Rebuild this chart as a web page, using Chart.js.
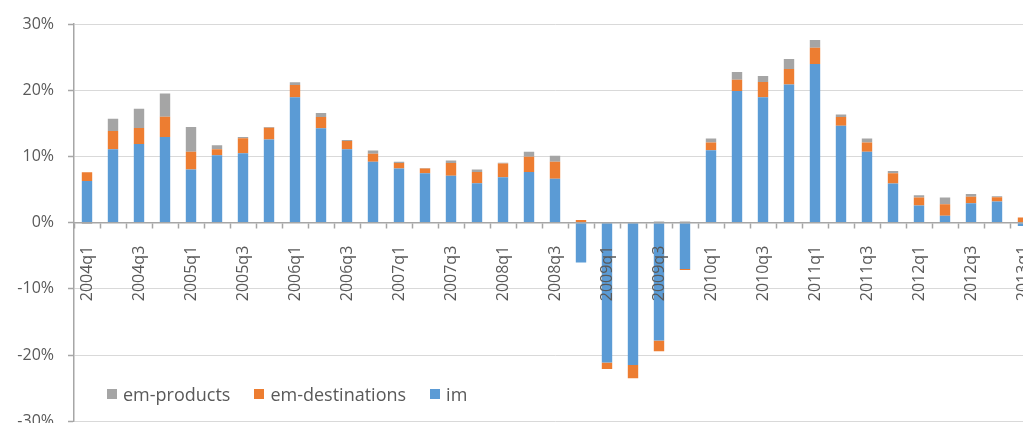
<!DOCTYPE html>
<html>
<head>
<meta charset="utf-8">
<script src="https://cdn.jsdelivr.net/npm/chart.js@4/dist/chart.umd.min.js"></script>
<style>
    html, body { margin: 0; padding: 0; background: #fff; }
    #frame { position: relative; width: 1023px; height: 423px; overflow: hidden; }
    #box { position: absolute; left: 0; top: 0; width: 1036px; height: 445px; }
    #legend {
        position: absolute; left: 107px; top: 382px;
        font-family: "Open Sans", sans-serif; font-size: 18px; color: #595959;
        display: flex; gap: 24px; white-space: nowrap;
    }
    #legend span.item { display: flex; align-items: center; }
    #legend i { display: inline-block; width: 10px; height: 10px; margin-right: 6px; }
</style>
</head>
<body>
<div id="frame">
    <div id="box"><canvas id="growthChart"></canvas></div>
    <div id="legend"></div>
</div>
<script>
const quarters = [
    "2004q1", "2004q2", "2004q3", "2004q4",
    "2005q1", "2005q2", "2005q3", "2005q4",
    "2006q1", "2006q2", "2006q3", "2006q4",
    "2007q1", "2007q2", "2007q3", "2007q4",
    "2008q1", "2008q2", "2008q3", "2008q4",
    "2009q1", "2009q2", "2009q3", "2009q4",
    "2010q1", "2010q2", "2010q3", "2010q4",
    "2011q1", "2011q2", "2011q3", "2011q4",
    "2012q1", "2012q2", "2012q3", "2012q4",
    "2013q1",
];

// percent contributions, stacked: im at the bottom
const im = [
    6.3, 11.1, 11.9, 12.95, 8.05, 10.2, 10.5, 12.55,
    18.95, 14.25, 11.1, 9.2, 8.2, 7.45, 7.1, 5.95,
    6.85, 7.65, 6.65, -6.0, -21.1, -21.5, -17.8, -7.0,
    10.95, 19.9, 18.95, 20.85, 23.95, 14.65, 10.7, 5.9,
    2.6, 1.05, 2.95, 3.2, -0.5,
];
const emDestinations = [
    1.3, 2.75, 2.4, 3.05, 2.65, 0.9, 2.25, 1.8,
    1.85, 1.7, 1.25, 1.2, 0.8, 0.75, 1.9, 1.7,
    2.1, 2.3, 2.55, 0.4, -1.0, -2.0, -1.6, -0.15,
    1.15, 1.7, 2.3, 2.35, 2.45, 1.3, 1.4, 1.55,
    1.2, 1.75, 0.95, 0.65, 0.8,
];
const emProducts = [
    -0.2, 1.85, 2.9, 3.5, 3.75, 0.6, 0.2, 0.1,
    0.4, 0.6, 0.15, 0.5, 0.2, 0.05, 0.4, 0.4,
    0.1, 0.75, 0.9, 0, 0, 0, 0.2, 0.2,
    0.6, 1.15, 0.9, 1.5, 1.2, 0.4, 0.6, 0.35,
    0.35, 1.0, 0.45, 0.15, 0,
];
const yTicks = [-30, -20, -10, 0, 10, 20, 30];

const textColor = "#595959";
const axisColor = "#A6A6A6";
const fontFamily = "'Open Sans', sans-serif";

const datasets = [
    { label: "im", data: im, backgroundColor: "#5B9BD5" },
    { label: "em-destinations", data: emDestinations, backgroundColor: "#ED7D31" },
    { label: "em-products", data: emProducts, backgroundColor: "#A5A5A5" },
].map((d) => ({
    ...d,
    borderWidth: 0,
    barPercentage: 0.4,
    categoryPercentage: 1.0,
}));

const chart = new Chart(document.getElementById("growthChart"), {
    type: "bar",
    data: { labels: quarters, datasets: datasets },
    options: {
        responsive: true,
        maintainAspectRatio: false,
        animation: false,
        layout: { padding: { top: 24, bottom: 20, left: 0, right: 0 } },
        plugins: {
            legend: { display: false },
            tooltip: { enabled: false },
        },
        scales: {
            x: {
                stacked: true,
                position: { y: 0 },
                // axis sits at zero, so it should not eat layout space
                afterFit: function (scale) {
                    scale.height = 0;
                    scale.paddingLeft = 0;
                    scale.paddingRight = 0;
                },
                grid: {
                    offset: true,
                    drawOnChartArea: false,
                    drawTicks: true,
                    tickLength: 5,
                    tickColor: axisColor,
                    tickWidth: 1.5,
                    z: 1,
                },
                border: { color: axisColor, width: 1.5, z: 1 },
                ticks: {
                    autoSkip: false,
                    maxRotation: 90,
                    minRotation: 90,
                    padding: 18,
                    color: textColor,
                    font: { family: fontFamily, size: 16 },
                    z: 1,
                    callback: function (value, index) {
                        return index % 2 === 0 ? quarters[index] : "";
                    },
                },
            },
            y: {
                stacked: true,
                min: yTicks[0],
                max: yTicks[yTicks.length - 1],
                afterFit: function (scale) {
                    scale.width = 74;
                },
                afterBuildTicks: function (scale) {
                    scale.ticks = yTicks.map((v) => ({ value: v }));
                },
                grid: {
                    color: "#D9D9D9",
                    lineWidth: 1,
                    borderDash: [2, 2],
                    tickLength: 6,
                    tickColor: axisColor,
                    tickBorderDash: [],
                    tickWidth: 1.5,
                },
                border: { color: axisColor, width: 1.5 },
                ticks: {
                    padding: 14,
                    color: textColor,
                    font: { family: fontFamily, size: 16 },
                    callback: function (value) {
                        return value + "%";
                    },
                },
            },
        },
    },
});

// legend drawn on top of the plot, bottom-left, top of stack first
const legendEl = document.getElementById("legend");
chart.data.datasets.slice().reverse().forEach((ds) => {
    const item = document.createElement("span");
    item.className = "item";
    const sw = document.createElement("i");
    sw.style.background = ds.backgroundColor;
    item.appendChild(sw);
    item.appendChild(document.createTextNode(ds.label));
    legendEl.appendChild(item);
});
</script>
</body>
</html>
